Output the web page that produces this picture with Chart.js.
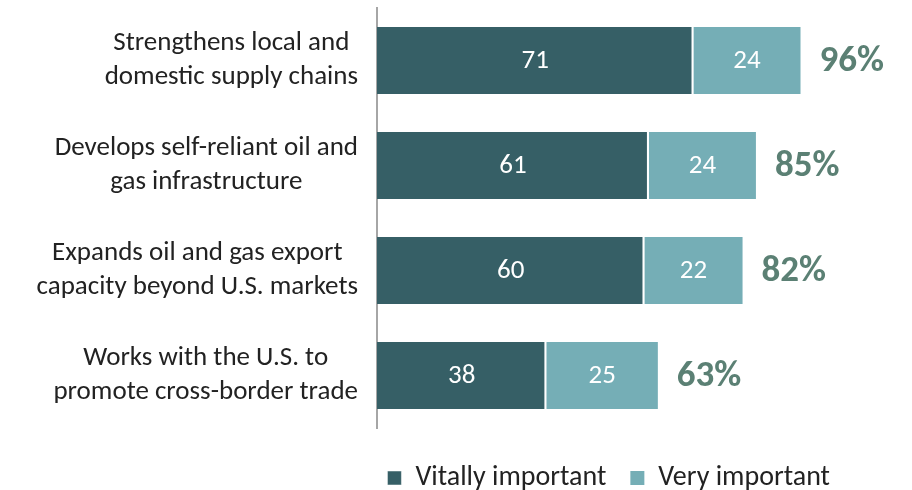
<!DOCTYPE html>
<html>
<head>
<meta charset="utf-8">
<script src="https://cdn.jsdelivr.net/npm/chart.js@4.4.1/dist/chart.umd.min.js"></script>
<style>
  html, body { margin: 0; padding: 0; background: #fff; }
  #wrap { width: 912px; height: 490px; }
</style>
</head>
<body>
<div id="wrap"><canvas id="chart"></canvas></div>
<script>
const categories = [
    ['Strengthens local and', 'domestic supply chains'],
    ['Develops self-reliant oil and', 'gas infrastructure'],
    ['Expands oil and gas export', 'capacity beyond U.S. markets'],
    ['Works with the U.S. to', 'promote cross-border trade']
];
const vitally = [71, 61, 60, 38];
const very = [24, 24, 22, 25];
const totals = ['96%', '85%', '82%', '63%'];

const FONT = "Carlito, Lato, 'Open Sans', sans-serif";
Chart.defaults.font.family = FONT;
Chart.defaults.color = '#222';

// category labels: block right-aligned to the axis, lines centred inside the block
const catLabelPlugin = {
    id: 'catLabels',
    afterDraw(chart) {
        const ctx = chart.ctx;
        const y = chart.scales.y;
        const right = chart.chartArea.left - 19;
        const lh = 34;
        ctx.save();
        ctx.font = "27px " + FONT;
        ctx.fillStyle = '#222';
        ctx.textAlign = 'center';
        ctx.textBaseline = 'middle';
        categories.forEach((lines, i) => {
            const w = Math.max(...lines.map(l => ctx.measureText(l).width));
            const cx = right - w / 2;
            const cy = y.getPixelForValue(i);
            lines.forEach((l, k) => {
                ctx.fillText(l, cx, cy + (k - (lines.length - 1) / 2) * lh);
            });
        });
        ctx.restore();
    }
};

const labelPlugin = {
    id: 'barLabels',
    afterDatasetsDraw(chart) {
        const ctx = chart.ctx;
        ctx.save();
        ctx.textBaseline = 'middle';
        chart.data.datasets.forEach((ds, di) => {
            chart.getDatasetMeta(di).data.forEach((bar, i) => {
                const mid = (bar.x + bar.base) / 2;
                ctx.fillStyle = '#fff';
                ctx.font = "27px " + FONT;
                ctx.textAlign = 'center';
                ctx.fillText(ds.data[i], mid, bar.y + 1);
            });
        });
        const last = chart.getDatasetMeta(chart.data.datasets.length - 1);
        last.data.forEach((bar, i) => {
            ctx.fillStyle = '#5b8074';
            ctx.font = "bold 37px " + FONT;
            ctx.textAlign = 'left';
            ctx.fillText(totals[i], bar.x + 19, bar.y + 1);
        });
        ctx.restore();
    }
};

new Chart(document.getElementById('chart'), {
    type: 'bar',
    data: {
        labels: categories,
        datasets: [
            {
                label: 'Vitally important',
                data: vitally,
                backgroundColor: '#365f66',
                borderColor: '#fff',
                borderWidth: { right: 2, left: 0, top: 0, bottom: 0 },
                borderSkipped: false,
                barPercentage: 0.8,
                categoryPercentage: 0.8
            },
            {
                label: 'Very important',
                data: very,
                backgroundColor: '#75aeb6',
                borderWidth: 0,
                barPercentage: 0.8,
                categoryPercentage: 0.8
            }
        ]
    },
    options: {
        indexAxis: 'y',
        responsive: true,
        maintainAspectRatio: false,
        animation: false,
        layout: { padding: { top: 8, right: 58, left: 0, bottom: -12 } },
        plugins: {
            legend: {
                position: 'bottom',
                align: 'end',
                labels: {
                    boxWidth: 14,
                    boxHeight: 14,
                    padding: 24,
                    color: '#222',
                    font: { size: 28 }
                }
            },
            tooltip: { enabled: false }
        },
        scales: {
            x: {
                stacked: true,
                display: true,
                min: 0,
                max: 107,
                grid: { display: false, drawTicks: false },
                border: { display: false },
                ticks: { display: false },
                afterFit(scale) { scale.height = 12; }
            },
            y: {
                stacked: true,
                grid: { display: false, drawTicks: false },
                border: { display: true, color: '#a6a6a6', width: 2 },
                ticks: { display: false },
                afterFit(scale) {
                    scale.width = 377;
                    scale.paddingTop = 0;
                    scale.paddingBottom = 0;
                }
            }
        }
    },
    plugins: [labelPlugin, catLabelPlugin]
});
</script>
</body>
</html>
